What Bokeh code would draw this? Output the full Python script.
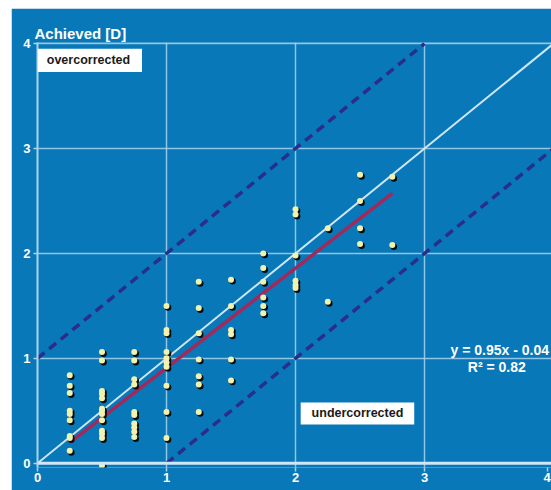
from bokeh.plotting import figure
from bokeh.models import ColumnDataSource, Label, BoxAnnotation, Span
from bokeh.transform import dodge
from bokeh.embed import file_html
from bokeh.resources import INLINE

# Planned (attempted) correction levels [D]
planned_levels = [0.25, 0.5, 0.75, 1.0, 1.25, 1.5, 1.75, 2.0, 2.25, 2.5, 2.75]
# Achieved correction [D] for each planned level
achieved_025 = [0.84, 0.74, 0.67, 0.50, 0.47, 0.41, 0.26, 0.24, 0.12]
achieved_050 = [1.06, 0.98, 0.69, 0.66, 0.62, 0.52, 0.50, 0.47, 0.41, 0.31, 0.28, 0.24, -0.02]
achieved_075 = [1.06, 0.98, 0.80, 0.75, 0.49, 0.46, 0.38, 0.34, 0.30, 0.25]
achieved_100 = [1.50, 1.27, 1.24, 1.06, 1.00, 0.96, 0.92, 0.74, 0.49, 0.24]
achieved_125 = [1.73, 1.48, 1.24, 0.99, 0.83, 0.75, 0.49]
achieved_150 = [1.75, 1.50, 1.27, 1.23, 0.99, 0.79]
achieved_175 = [2.00, 1.86, 1.73, 1.58, 1.50, 1.43]
achieved_200 = [2.42, 2.37, 1.98, 1.74, 1.70, 1.67]
achieved_225 = [2.24, 1.54]
achieved_250 = [2.75, 2.50, 2.24, 2.09]
achieved_275 = [2.73, 2.08]
achieved_by_level = [achieved_025, achieved_050, achieved_075, achieved_100,
                     achieved_125, achieved_150, achieved_175, achieved_200,
                     achieved_225, achieved_250, achieved_275]

# Regression y = 0.95x - 0.04
fit_slope = 0.95
fit_intercept = -0.04
fit_x = [0.25, 2.75]
fit_y = [fit_slope * v + fit_intercept for v in fit_x]

identity_x = [0, 4]
identity_y = [0, 4]
over_x = [0, 3]
over_y = [1, 4]
under_x = [1, 4]
under_y = [0, 3]

x_ticks = [0, 1, 2, 3, 3.95]
x_tick_labels = {3.95: "4"}
y_ticks = [0, 1, 2, 3, 4]

xs, ys = [], []
for lvl, vals in zip(planned_levels, achieved_by_level):
    xs += [lvl] * len(vals)
    ys += vals
src = ColumnDataSource(dict(x=xs, y=ys))

BLUE = "#0878b8"
GRID = "#a9d3ee"
FONT = "Liberation Sans"

p = figure(frame_width=514, frame_height=425,
           x_range=(0, 3.984), y_range=(-0.04, 4.01),
           output_backend="svg", toolbar_location=None,
           min_border_left=26, min_border_right=0, min_border_top=34, min_border_bottom=23,
           background_fill_color=BLUE, border_fill_color=BLUE,
           outline_line_color=None, margin=(8, 0, 0, 11))

p.title.text = "Achieved [D]"
p.title.text_color = "white"
p.title.text_font = FONT
p.title.text_font_style = "bold"
p.title.text_font_size = "15px"
p.title.align = "left"
p.title.offset = -3
p.title.standoff = 1

p.xgrid.ticker = [1, 2, 3, 4]
p.ygrid.ticker = [1, 2, 3, 4]
for g in (p.xgrid, p.ygrid):
    g.grid_line_color = GRID
    g.grid_line_width = 1.5
    g.grid_line_alpha = 0.85

for ax in (p.xaxis, p.yaxis):
    ax.major_label_text_color = "white"
    ax.major_label_text_font = FONT
    ax.major_label_text_font_style = "bold"
    ax.major_label_text_font_size = "13px"
    ax.major_tick_line_color = GRID
    ax.major_tick_line_width = 1.5
    ax.major_tick_in = 0
    ax.major_tick_out = 4
    ax.minor_tick_line_color = None
p.xaxis.ticker = x_ticks
p.xaxis.major_label_overrides = x_tick_labels
p.yaxis.ticker = y_ticks
p.xaxis.axis_line_color = None
p.yaxis.axis_line_color = GRID
p.yaxis.axis_line_width = 2
p.xaxis.major_label_standoff = 1
p.yaxis.major_label_standoff = 3

p.add_layout(Span(location=0, dimension="width", line_color="#cfe7f7", line_width=3))

p.line(identity_x, identity_y, line_color="#cfe7f7", line_width=2)
p.line(over_x, over_y, line_color="#2a2d8a", line_width=3.5, line_dash="9 6")
p.line(under_x, under_y, line_color="#2a2d8a", line_width=3.5, line_dash="9 6")
p.line(fit_x, fit_y, line_color="#a02a5c", line_width=3.5)

p.scatter(x=dodge("x", 0.012, range=p.x_range), y=dodge("y", -0.016, range=p.y_range),
          source=src, size=6.5, fill_color="#0d0d0d", line_color=None)
p.scatter(x="x", y="y", source=src, size=6, fill_color="#f2f2b0", line_color=None)

p.add_layout(BoxAnnotation(left=0, right=0.81, top=3.95, bottom=3.73,
                           fill_color="white", fill_alpha=1, line_color=None))
p.add_layout(BoxAnnotation(left=2.04, right=2.92, top=0.58, bottom=0.37,
                           fill_color="white", fill_alpha=1, line_color=None))

def lab(text, x, y, align="center", color="white", size="13px"):
    p.add_layout(Label(x=x, y=y, text=text, text_align=align, text_baseline="middle",
                       text_color=color, text_font=FONT, text_font_style="bold",
                       text_font_size=size))

lab("overcorrected", 0.395, 3.84, color="#1a1a1a", size="12.5px")
lab("undercorrected", 2.48, 0.475, color="#1a1a1a", size="12.5px")
lab("y = 0.95x - 0.04", 3.965, 1.076, align="right", size="14px")
lab("R² = 0.82", 3.56, 0.914, size="14px")

open("out.html", "w").write(file_html(p, INLINE))
